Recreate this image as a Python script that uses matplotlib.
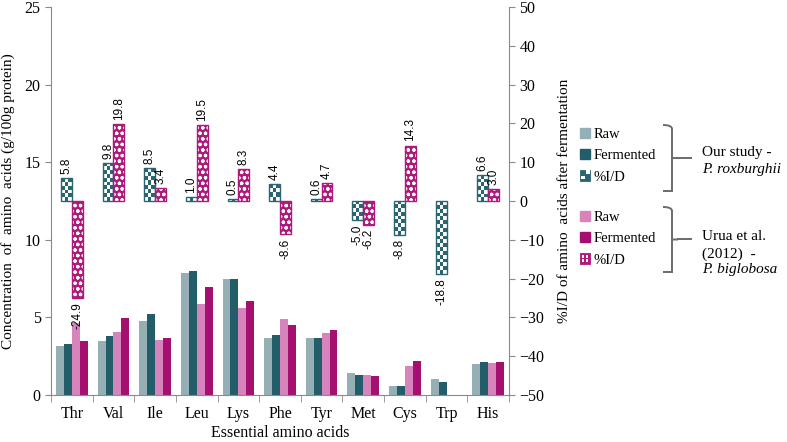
import numpy as np
import matplotlib.pyplot as plt
from matplotlib.colors import ListedColormap
from matplotlib.legend_handler import HandlerBase
from matplotlib.patches import Patch, PathPatch, Rectangle
from matplotlib.path import Path

amino = ["Thr", "Val", "Ile", "Leu", "Lys", "Phe", "Tyr", "Met", "Cys", "Trp", "His"]

# concentrations, g/100g protein
raw_ours = [3.13, 3.48, 4.79, 7.88, 7.45, 3.65, 3.68, 1.40, 0.60, 1.03, 1.98]
ferm_ours = [3.28, 3.80, 5.24, 7.97, 7.45, 3.85, 3.70, 1.32, 0.55, 0.83, 2.12]
raw_urua = [4.64, 4.08, 3.54, 5.86, 5.58, 4.88, 3.97, 1.31, 1.89, np.nan, 2.06]
ferm_urua = [3.48, 4.96, 3.70, 6.98, 6.06, 4.50, 4.16, 1.24, 2.17, np.nan, 2.10]

# % increase / decrease after fermentation
pid_ours = [5.8, 9.8, 8.5, 1.0, 0.5, 4.4, 0.6, -5.0, -8.8, -18.8, 6.6]
pid_urua = [-24.9, 19.8, 3.4, 19.5, 8.3, -8.6, 4.7, -6.2, 14.3, np.nan, 3.0]

C_RAW_O = "#95afb5"
C_FER_O = "#245d6a"
C_RAW_U = "#d784bd"
C_FER_U = "#a50f6f"
C_CHK = "#2b6574"
C_DOT = "#b0197c"
GREY = "#8a8a8a"

SERIF = "Liberation Serif"
plt.rcParams["hatch.linewidth"] = 0.9

W, H = 787, 442
fig = plt.figure(figsize=(W / 100, H / 100), dpi=100)
ax = fig.add_axes([51 / W, 1 - 395 / H, (509 - 51) / W, (395 - 7) / H])
ax2 = ax.twinx()

x = np.arange(len(amino))
w = 0.19
for k, (vals, col) in enumerate(zip([raw_ours, ferm_ours, raw_urua, ferm_urua],
                                    [C_RAW_O, C_FER_O, C_RAW_U, C_FER_U])):
    ax.bar(x + (k - 1.5) * w, vals, w, color=col, linewidth=0)

# %I/D bars on the right axis
bw = 0.26
xo = x - bw / 2
xu = x + bw / 2
bars_o = ax2.bar(xo, pid_ours, bw, color="white", linewidth=0, zorder=1)
chk_cmap = ListedColormap(["white", C_CHK])
for patch, xc, v in zip(bars_o.patches, xo, pid_ours):
    nrow = max(1, int(round(abs(v) / 1.0)))
    arr = (np.add.outer(np.arange(nrow), np.arange(3)) % 2).astype(float)
    im = ax2.imshow(arr, cmap=chk_cmap, vmin=0, vmax=1, origin="lower",
                    extent=(xc - bw / 2, xc + bw / 2, min(0, v), max(0, v)),
                    aspect="auto", interpolation="nearest", zorder=1.5)
    im.set_clip_path(patch)
ax2.bar(xo, pid_ours, bw, fill=False, edgecolor=C_CHK, linewidth=1, zorder=2)

ax2.bar(xu, pid_urua, bw, color=C_DOT, edgecolor="white", hatch="ooo",
        linewidth=0, zorder=1)
ax2.bar(xu, pid_urua, bw, fill=False, edgecolor=C_DOT, linewidth=1, zorder=2)

for xs, vals in [(xo, pid_ours), (xu, pid_urua)]:
    for xc, v in zip(xs, vals):
        if np.isnan(v):
            continue
        ax2.annotate(f"{v:.1f}", (xc, v), xytext=(0, 3 if v >= 0 else -3),
                     textcoords="offset points", rotation=90, ha="center",
                     va="bottom" if v >= 0 else "top", fontsize=8.5,
                     family="Liberation Sans", zorder=3)

ax.set_xlim(-0.5, len(amino) - 0.5)
ax.set_ylim(0, 25)
ax.set_yticks(range(0, 26, 5))
ax2.set_ylim(-50, 50)
ax2.set_yticks(range(-50, 51, 10))
ax2.set_xlim(-0.5, len(amino) - 0.5)

ax.set_xticks(x)
ax.set_xticklabels(amino, family=SERIF, fontsize=11.5)
ax.set_xticks(np.arange(-0.5, len(amino)), minor=True)
ax.tick_params(axis="x", which="major", length=0, pad=8)
ax.tick_params(axis="x", which="minor", length=5, color=GREY)
ax.tick_params(axis="y", length=4, color=GREY, labelsize=11.5)
ax2.tick_params(axis="y", length=4, color=GREY, labelsize=11.5)
for lab in ax.get_yticklabels() + ax2.get_yticklabels():
    lab.set_family(SERIF)

for s in ["top", "right"]:
    ax.spines[s].set_visible(False)
for s in ["top", "left", "bottom"]:
    ax2.spines[s].set_visible(False)
for sp in [ax.spines["left"], ax.spines["bottom"], ax2.spines["right"]]:
    sp.set_color(GREY)

ax.set_xlabel("Essential amino acids", family=SERIF, fontsize=11.5, labelpad=2)
ax.set_ylabel("Concentration  of  amino  acids (g/100g protein)", family=SERIF,
              fontsize=11)
ax.yaxis.set_label_coords((15 - 51) / 458, 0.5)
ax2.set_ylabel("%I/D of amino  acids after fermentation", family=SERIF,
               fontsize=11)
ax2.yaxis.set_label_coords((558 - 51) / 458, 0.5)


class CheckerHandler(HandlerBase):
    def __init__(self, color, dots=False):
        super().__init__()
        self.color = color
        self.dots = dots

    def create_artists(self, legend, orig_handle, xdescent, ydescent,
                       width, height, fontsize, trans):
        x0, y0 = -xdescent, -ydescent
        arts = [Rectangle((x0, y0), width, height, facecolor=self.color,
                          edgecolor=self.color, lw=0.6, transform=trans)]
        if self.dots:
            for dx, dy in [(0.3, 0.3), (0.7, 0.7), (0.3, 0.7), (0.7, 0.3)]:
                arts.append(Rectangle((x0 + width * (dx - 0.12), y0 + height * (dy - 0.12)),
                                      width * 0.24, height * 0.24, facecolor="white",
                                      lw=0, transform=trans))
        else:
            for dx, dy in [(0.5, 0.5), (0.0, 0.0)]:
                arts.append(Rectangle((x0 + width * dx + 1, y0 + height * dy + 1),
                                      width * 0.5 - 1, height * 0.5 - 1,
                                      facecolor="white", lw=0, transform=trans))
        return arts


def add_legend(colors, pattern_color, dots, top_px):
    handles = [Patch(color=colors[0]), Patch(color=colors[1]), Patch(color=pattern_color)]
    leg = fig.legend(handles, ["Raw", "Fermented", "%I/D"], loc="upper left",
                     bbox_to_anchor=(580 / W, 1 - top_px / H), frameon=False,
                     handlelength=0.7, handleheight=0.7, handletextpad=0.25,
                     labelspacing=0.55, borderpad=0, borderaxespad=0,
                     prop={"family": SERIF, "size": 10.5},
                     handler_map={handles[2]: CheckerHandler(pattern_color, dots)})
    return leg


l1 = add_legend([C_RAW_O, C_FER_O], C_CHK, False, 128)
l2 = add_legend([C_RAW_U, C_FER_U], C_DOT, True, 211)


def px(xp, yp):
    return (xp / W, 1 - yp / H)


def brace(top, bottom, x0=663, x1=672, tip=678, end=691):
    mid = (top + bottom) / 2
    verts = [px(x0, top), px(x1, top), px(x1, top + 4), px(x1, top + 8),
             px(x1, mid - 6), px(x1, mid), px(tip, mid),
             px(x1, mid), px(x1, mid + 6), px(x1, bottom - 8),
             px(x1, bottom - 4), px(x1, bottom), px(x0, bottom)]
    codes = [Path.MOVETO, Path.CURVE3, Path.CURVE3, Path.LINETO,
             Path.CURVE3, Path.CURVE3, Path.LINETO,
             Path.MOVETO, Path.CURVE3, Path.LINETO,
             Path.CURVE3, Path.CURVE3, Path.LINETO]
    fig.add_artist(PathPatch(Path(verts, codes), fill=False, edgecolor="#6b6b6b",
                             lw=1.4, transform=fig.transFigure))
    fig.add_artist(plt.Line2D([tip / W, end / W], [1 - mid / H] * 2, color="#6b6b6b",
                              lw=1.4, transform=fig.transFigure))


brace(125, 191)
brace(207, 272)

tprops = dict(family=SERIF, fontsize=11, va="center", ha="left")
fig.text(*px(702, 152.5), "Our study -", **tprops)
fig.text(*px(702, 170), "P. roxburghii", style="italic", **tprops)
fig.text(*px(702, 237), "Urua et al.", **tprops)
fig.text(*px(702, 254), "(2012)  -", **tprops)
fig.text(*px(702, 269.5), "P. biglobosa", style="italic", **tprops)

fig.savefig("out.png", dpi=100)
